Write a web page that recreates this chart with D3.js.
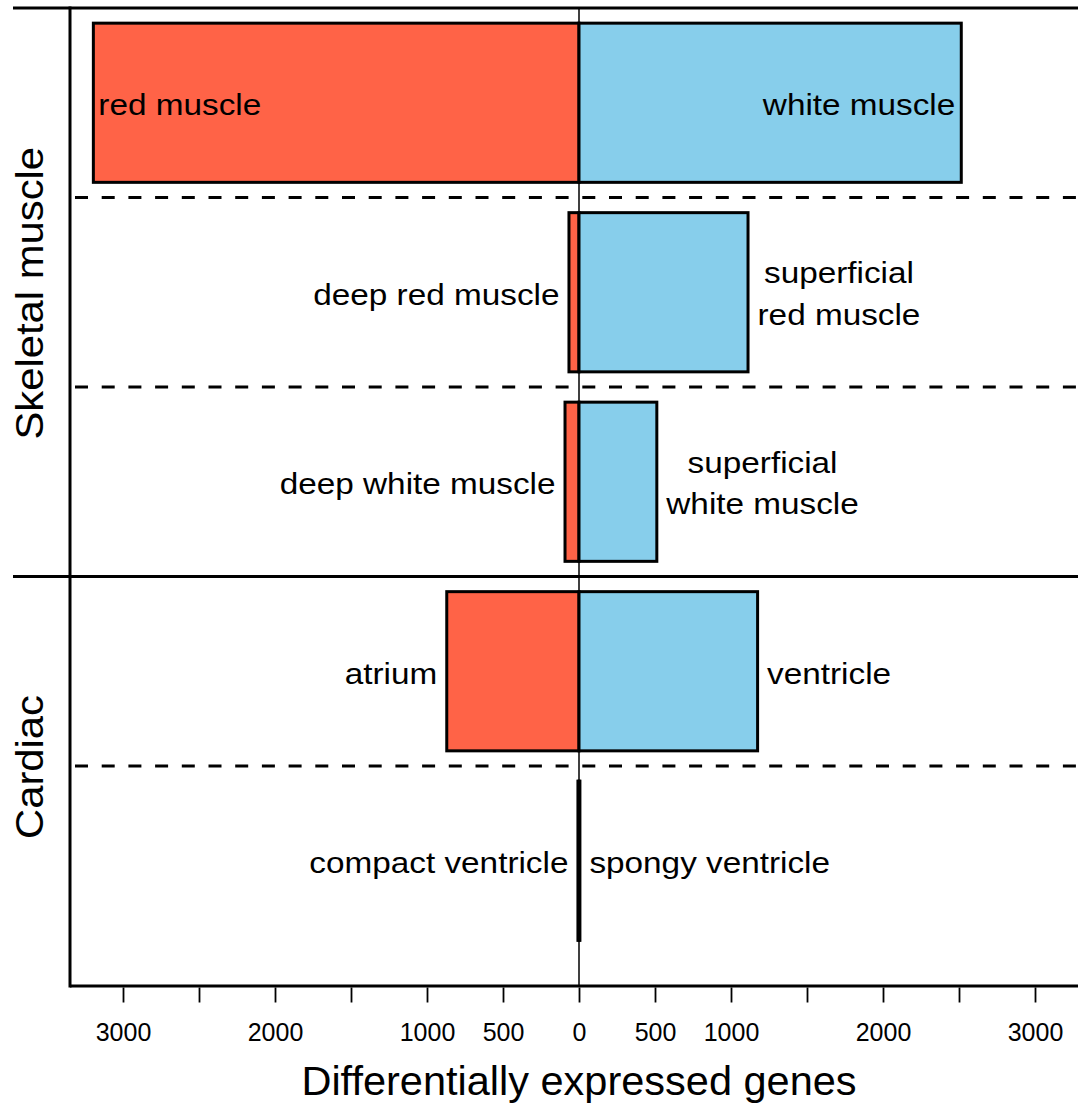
<!DOCTYPE html>
<html>
<head>
<meta charset="utf-8">
<script src="https://cdn.jsdelivr.net/npm/d3@7"></script>
<style>
  html, body { margin: 0; padding: 0; background: #fff; }
  svg { display: block; font-family: "Liberation Sans", Arial, Helvetica, sans-serif; }
</style>
</head>
<body>
<svg id="chart" width="1078" height="1106"></svg>
<script>
// ---- Data ----
const rowIds = ["redWhite", "deepSuperRed", "deepSuperWhite", "atriumVentricle", "compactSpongy"];
const leftLabels = ["red muscle", "deep red muscle", "deep white muscle", "atrium", "compact ventricle"];
const rightLabels = ["white muscle", "superficial\nred muscle", "superficial\nwhite muscle", "ventricle", "spongy ventricle"];
const leftValues = [3195, 66, 92, 870, 7];
const rightValues = [2515, 1112, 512, 1175, 6];
const groupNames = ["Skeletal muscle", "Cardiac"];
const groupRowCounts = [3, 2];
const tickValues = [-3000, -2500, -2000, -1500, -1000, -500, 0, 500, 1000, 1500, 2000, 2500, 3000];
const tickLabelValues = [-3000, -2000, -1000, -500, 0, 500, 1000, 2000, 3000];
const axisTitle = "Differentially expressed genes";

// ---- Layout ----
const W = 1078, H = 1106;
const plotLeft = 70, plotRight = 1078, plotTop = 8, rowsBottom = 955.5, axisY = 986;
const redFill = "#FF6347", blueFill = "#87CEEB";
const labelSize = 30, labelStretch = 1.11, labelGap = 9.5;

const svg = d3.select("#chart");

const x = d3.scaleLinear().domain([-3000, 3000]).range([123, 1035]);
const y = d3.scaleBand().domain(rowIds).range([plotTop, rowsBottom]).paddingInner(0.16).paddingOuter(0.08);
const step = y.step();

// Dashed separators between rows within groups, solid between groups
let cum = 0;
const groupBounds = groupRowCounts.map(n => { const s = cum; cum += n; return [s, cum]; });
const boundaryIdx = d3.range(1, rowIds.length);
const groupStarts = new Set(groupBounds.map(g => g[0]));
boundaryIdx.forEach(i => {
  const yy = plotTop + i * step;
  if (groupStarts.has(i)) {
    svg.append("line").attr("x1", 13).attr("x2", plotRight).attr("y1", yy).attr("y2", yy)
      .attr("stroke", "#000").attr("stroke-width", 3);
  } else {
    svg.append("line").attr("x1", 75).attr("x2", plotRight).attr("y1", yy).attr("y2", yy)
      .attr("stroke", "#000").attr("stroke-width", 3).attr("stroke-dasharray", "13,13.7");
  }
});

// Top line
svg.append("line").attr("x1", 13).attr("x2", plotRight).attr("y1", plotTop).attr("y2", plotTop)
  .attr("stroke", "#000").attr("stroke-width", 3);

// Bars
const rows = rowIds.map((id, i) => ({ id, i, left: leftValues[i], right: rightValues[i],
  lLab: leftLabels[i], rLab: rightLabels[i] }));

svg.append("g").selectAll("rect.red").data(rows).join("rect")
  .attr("x", d => x(-d.left)).attr("width", d => x(0) - x(-d.left))
  .attr("y", d => y(d.id)).attr("height", y.bandwidth())
  .attr("fill", redFill).attr("stroke", "#000").attr("stroke-width", 3);
svg.append("g").selectAll("rect.blue").data(rows).join("rect")
  .attr("x", x(0)).attr("width", d => x(d.right) - x(0))
  .attr("y", d => y(d.id)).attr("height", y.bandwidth())
  .attr("fill", blueFill).attr("stroke", "#000").attr("stroke-width", 3);

// Zero line
svg.append("line").attr("x1", x(0)).attr("x2", x(0)).attr("y1", plotTop).attr("y2", axisY)
  .attr("stroke", "#000").attr("stroke-width", 1.5);

// Frame: left vertical and bottom
svg.append("line").attr("x1", plotLeft).attr("x2", plotLeft).attr("y1", plotTop - 1.5).attr("y2", axisY + 1.5)
  .attr("stroke", "#000").attr("stroke-width", 3);
svg.append("line").attr("x1", plotLeft).attr("x2", plotRight).attr("y1", axisY).attr("y2", axisY)
  .attr("stroke", "#000").attr("stroke-width", 3);

// Labels
function addLabel(xPos, yCenter, text, anchor) {
  const lines = text.split("\n");
  const lineH = 41.5;
  const g = svg.append("g");
  const firstDy = lines.length === 1 ? 12.5 : -9;
  const texts = lines.map((ln, k) => g.append("text")
    .attr("text-anchor", anchor === "block-start" ? "middle" : anchor)
    .attr("font-size", labelSize).attr("fill", "#000")
    .attr("transform", `translate(0,${yCenter + firstDy + k * lineH}) scale(${labelStretch},1)`)
    .text(ln));
  if (anchor === "block-start") {
    const maxW = d3.max(texts, t => t.node().getComputedTextLength()) * labelStretch;
    g.attr("transform", `translate(${xPos + maxW / 2},0)`);
  } else {
    g.attr("transform", `translate(${xPos},0)`);
  }
}

rows.forEach(d => {
  const yc = y(d.id) + y.bandwidth() / 2;
  const leftEdge = x(-d.left), rightEdge = x(d.right);
  const inside = (x(0) - leftEdge) > 300;
  if (inside) {
    addLabel(leftEdge + 5, yc, d.lLab, "start");
    addLabel(rightEdge - 6, yc, d.rLab, "end");
  } else {
    addLabel(leftEdge - labelGap, yc, d.lLab, "end");
    addLabel(rightEdge + labelGap, yc, d.rLab, d.rLab.includes("\n") ? "block-start" : "start");
  }
});

// Group labels
groupBounds.forEach((g, gi) => {
  const yc = (plotTop + g[0] * step + plotTop + g[1] * step) / 2;
  svg.append("text")
    .attr("transform", `translate(43,${yc + 1}) rotate(-90) scale(1.1,1)`)
    .attr("text-anchor", "middle").attr("font-size", 38).attr("fill", "#000")
    .text(groupNames[gi]);
});

// Axis
const axis = d3.axisBottom(x).tickValues(tickValues).tickSize(15).tickSizeOuter(0)
  .tickFormat(v => tickLabelValues.includes(v) ? String(Math.abs(v)) : "");
const ax = svg.append("g").attr("transform", `translate(0,${axisY + 1.5})`).call(axis);
ax.select(".domain").remove();
ax.selectAll(".tick line").attr("stroke", "#000").attr("stroke-width", 1.8);
ax.selectAll(".tick text").attr("font-size", 25).attr("fill", "#000")
  .attr("font-family", "'Liberation Sans', Arial, sans-serif").attr("y", 0).attr("dy", 0)
  .attr("transform", "translate(0,53.5)");

// Axis title
svg.append("text").attr("x", x(0)).attr("y", 1095).attr("text-anchor", "middle")
  .attr("font-size", 41.5).attr("fill", "#000").text(axisTitle);
</script>
</body>
</html>
